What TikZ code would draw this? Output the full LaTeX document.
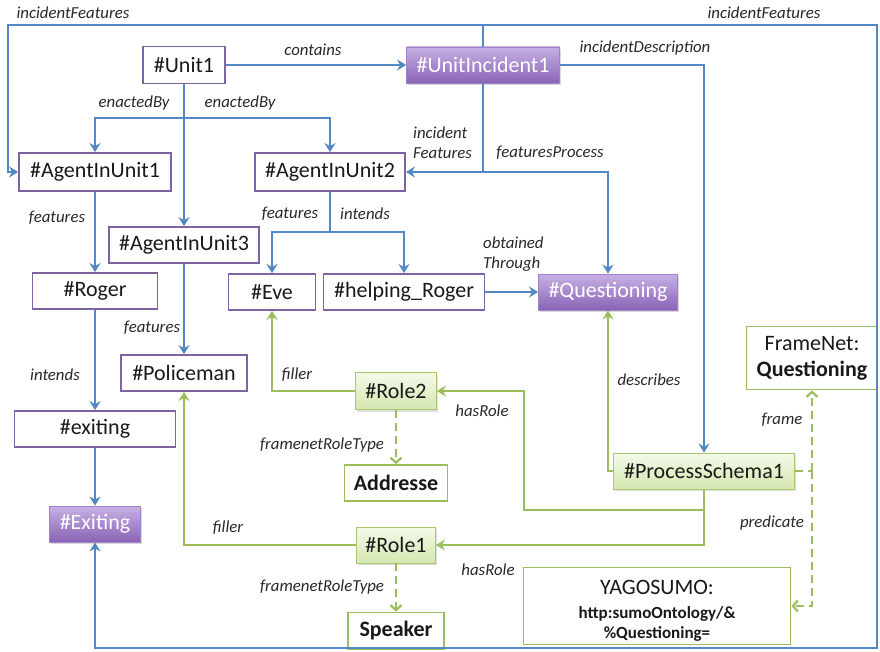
\documentclass[tikz,border=0pt]{standalone}
\usepackage{fontspec}
\setmainfont{Carlito}
\usetikzlibrary{arrows.meta,shadows,calc}

\definecolor{linkblue}{RGB}{84,136,196}
\definecolor{linkgreen}{RGB}{155,189,92}
\definecolor{boxpurple}{RGB}{128,100,162}
\definecolor{purpleedge}{RGB}{160,130,200}
\definecolor{purpletop}{RGB}{200,176,228}
\definecolor{purplebottom}{RGB}{136,100,182}
\definecolor{greenedge}{RGB}{170,200,110}
\definecolor{greentop}{RGB}{244,250,233}
\definecolor{greenbottom}{RGB}{212,231,176}
\definecolor{textdark}{RGB}{25,25,25}
\definecolor{labeldark}{RGB}{40,40,40}

\newcommand\boxfont{\fontsize{22}{26}\selectfont}
\newcommand\labelfont{\fontsize{16.8}{20}\selectfont\itshape}
\newcommand\smallbold{\fontsize{17}{20}\selectfont\bfseries}

\tikzset{
  plainbox/.style={draw=boxpurple, line width=1.8pt, fill=white, inner sep=0pt,
    font=\boxfont, text=textdark},
  purplefill/.style={draw=purpleedge, line width=0.8pt, top color=purpletop,
    bottom color=purplebottom, inner sep=0pt, font=\boxfont, text=white,
    drop shadow={shadow xshift=1.5pt, shadow yshift=-2pt, opacity=0.3}},
  greenbox/.style={draw=linkgreen, line width=1.8pt, fill=white, inner sep=0pt,
    font=\boxfont, text=textdark},
  greenfill/.style={draw=greenedge, line width=0.8pt, top color=greentop,
    bottom color=greenbottom, inner sep=0pt, font=\boxfont, text=textdark,
    drop shadow={shadow xshift=1.5pt, shadow yshift=-2pt, opacity=0.25}},
  wire/.style={line width=2.4pt, line join=miter},
  bluelink/.style={wire, draw=linkblue, -{Stealth[length=9pt,width=11pt,inset=3pt]}},
  blueline/.style={wire, draw=linkblue},
  greenlink/.style={wire, draw=linkgreen, -{Stealth[length=9pt,width=11pt,inset=3pt]}},
  greendash/.style={wire, draw=linkgreen, dash pattern=on 8pt off 5pt,
    -{Straight Barb[length=5pt,width=11pt,line width=2.2pt]}},
  greendashline/.style={wire, draw=linkgreen, dash pattern=on 8pt off 5pt},
  edgelabel/.style={font=\labelfont, text=labeldark, inner sep=0pt},
}

\begin{document}
\begin{tikzpicture}[x=1pt,y=-1pt]
\useasboundingbox (0,0) rectangle (880,652);

% ---- nodes of the incident model (purple) ----
\node[plainbox, minimum width=82pt, minimum height=37pt] (u1) at (184,65) {\#Unit1};
\node[purplefill, minimum width=153pt, minimum height=36pt] (ui) at (483,65) {\#UnitIncident1};
\node[plainbox, minimum width=152pt, minimum height=38pt] (a1) at (95,172) {\#AgentInUnit1};
\node[plainbox, minimum width=150pt, minimum height=38pt] (a2) at (330,172) {\#AgentInUnit2};
\node[plainbox, minimum width=150pt, minimum height=36pt] (a3) at (184,245) {\#AgentInUnit3};
\node[plainbox, minimum width=125pt, minimum height=36pt] (roger) at (95,291) {\#Roger};
\node[plainbox, minimum width=87pt, minimum height=36pt] (eve) at (272,292) {\#Eve};
\node[plainbox, minimum width=161pt, minimum height=36pt] (help) at (404,292) {\#helping\_Roger};
\node[purplefill, minimum width=139pt, minimum height=36pt] (quest) at (608,292) {\#Questioning};
\node[plainbox, minimum width=126pt, minimum height=36pt] (police) at (184,373) {\#Policeman};
\node[plainbox, minimum width=161pt, minimum height=36pt] (exiting) at (95,429) {\#exiting};
\node[purplefill, minimum width=91pt, minimum height=36pt] (Exiting) at (95,524) {\#Exiting};

% ---- nodes of the process schema (green) ----
\node[greenfill, minimum width=81pt, minimum height=37pt] (role2) at (396,391) {\#Role2};
\node[greenbox, minimum width=103pt, minimum height=36pt] (addr) at (396,483) {\textbf{Addresse}};
\node[greenfill, minimum width=79pt, minimum height=36pt] (role1) at (396,545) {\#Role1};
\node[greenbox, minimum width=96pt, minimum height=37pt] (speaker) at (396,631) {\textbf{Speaker}};
\node[greenfill, minimum width=181pt, minimum height=36pt] (ps) at (704,471) {\#ProcessSchema1};
\node[greenbox, minimum width=131pt, minimum height=63pt, align=center,
      font=\fontsize{22}{26}\selectfont] (fn) at (812,358) {FrameNet:\\\textbf{Questioning}};
\node[greenbox, minimum width=267pt, minimum height=77pt] (yago) at (657,606) {};
\node[align=center, inner sep=0pt, text=textdark, font=\fontsize{22}{24}\selectfont]
      (yagotext) at (657,611) {YAGOSUMO:\\{\smallbold http:sumoOntology/\&}\\[-4pt]{\smallbold \%Questioning=}};

% ---- junction points ----
\coordinate (tl) at (8,25);
\coordinate (tr) at (877,25);
\coordinate (br) at (877,648);
\coordinate (eb) at (184,118);
\coordinate (ifj) at (ui.south |- a2.east);
\coordinate (aj) at (330,232);
\coordinate (hr) at (524,510);
\coordinate (fj) at (812,471);

% ---- blue links ----
\draw[bluelink] (u1.east) -- (ui.west);
\draw[bluelink] (ui.north) -- (ui.north |- tl) -- (tl) |- (a1.west);
\draw[bluelink] (ui.north |- tl) -- (tr) -- (br) -| (Exiting.south);
\draw[bluelink] (u1.south) -- (a3.north);
\draw[bluelink] (eb) -| (a1.north);
\draw[bluelink] (eb) -| (a2.north);
\draw[bluelink] (ui.south) -- (ifj) -- (a2.east);
\draw[bluelink] (ifj) -| (quest.north);
\draw[bluelink] (ui.east) -| (ps.north);
\draw[bluelink] (a1.south) -- (roger.north);
\draw[bluelink] (roger.south) -- (exiting.north);
\draw[bluelink] (exiting.south) -- (Exiting.north);
\draw[bluelink] (a3.south) -- (police.north);
\draw[blueline] (a2.south) -- (aj);
\draw[bluelink] (aj) -| (eve.north);
\draw[bluelink] (aj) -| (help.north);
\draw[bluelink] (help.east) -- (quest.west);

% ---- green links ----
\draw[greenlink] (role2.west) -| (eve.south);
\draw[greenlink] (role1.west) -| (police.south);
\draw[greenlink] (ps.west) -| (quest.south);
\draw[greenlink] (ps.south) |- (hr) -- (hr |- role2.east) -- (role2.east);
\draw[greenlink] (ps.south) |- (role1.east);
\draw[greendash] (role2.south) -- (addr.north);
\draw[greendash] (role1.south) -- (speaker.north);
\draw[greendashline] (ps.east) -- (fj);
\draw[greendash] (fj) -- (fn.south);
\draw[greendash] (fj) |- (yago.east);

% ---- link labels ----
\node[edgelabel] (lIF1) at (73,13) {incidentFeatures};
\node[edgelabel] (lIF2) at (764,13) {incidentFeatures};
\node[edgelabel] (lCont) at (313,50) {contains};
\node[edgelabel] (lDesc) at (645,48) {incidentDescription};
\node[edgelabel] (lEn1) at (134,103) {enactedBy};
\node[edgelabel] (lEn2) at (240,103) {enactedBy};
\node[edgelabel, align=left, anchor=west] (lIF3) at (413,143) {incident\\Features};
\node[edgelabel] (lFP) at (550,153) {featuresProcess};
\node[edgelabel] (lF1) at (57,218) {features};
\node[edgelabel] (lF2) at (290,214) {features};
\node[edgelabel] (lI2) at (365,214) {intends};
\node[edgelabel] (lF3) at (152,328) {features};
\node[edgelabel] (lI1) at (55,375) {intends};
\node[edgelabel, align=left, anchor=west] (lOT) at (483,254) {obtained\\Through};
\node[edgelabel] (lFil2) at (297,375) {filler};
\node[edgelabel] (lFil1) at (228,528) {filler};
\node[edgelabel] (lHR2) at (482,411) {hasRole};
\node[edgelabel] (lHR1) at (488,570) {hasRole};
\node[edgelabel] (lDescr) at (649,380) {describes};
\node[edgelabel] (lFrame) at (782,420) {frame};
\node[edgelabel] (lPred) at (772,523) {predicate};
\node[edgelabel] (lRT2) at (322,445) {framenetRoleType};
\node[edgelabel] (lRT1) at (322,587) {framenetRoleType};
\end{tikzpicture}
\end{document}
